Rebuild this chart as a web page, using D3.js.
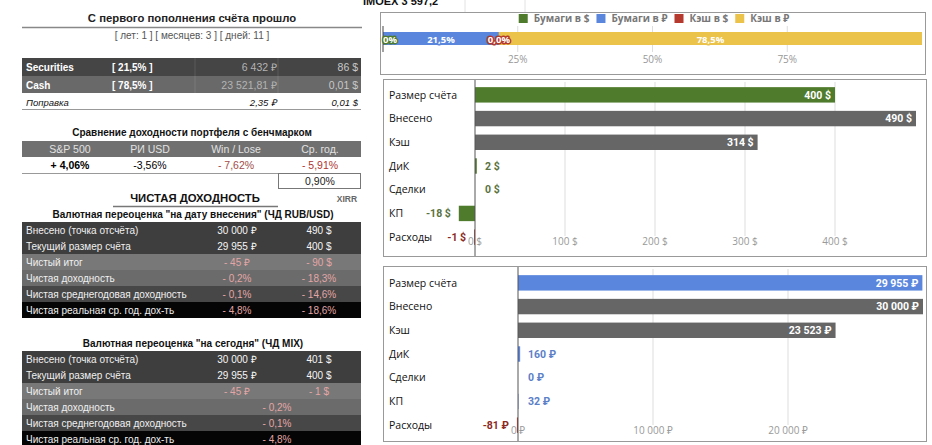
<!DOCTYPE html>
<html><head><meta charset="utf-8">
<script src="https://cdn.jsdelivr.net/npm/d3@7"></script>
<style>body{margin:0;background:#fff;overflow:hidden} svg{display:block}</style>
</head><body><svg id="c" width="932" height="445"></svg>
<script>
// ---------- data ----------
const elapsedTitle = "С первого пополнения счёта прошло";
const elapsedText = "[ лет: 1 ] [ месяцев: 3 ] [ дней: 11 ]";
const holdingsLabels = ["Securities", "Cash", "Поправка"];
const holdingsShares = ["[ 21,5% ]", "[ 78,5% ]", ""];
const holdingsRub = ["6 432 ₽", "23 521,81 ₽", "2,35 ₽"];
const holdingsUsd = ["86 $", "0,01 $", "0,01 $"];
const benchTitle = "Сравнение доходности портфеля с бенчмарком";
const benchHeaders = ["S&P 500", "РИ USD", "Win / Lose", "Ср. год."];
const benchValues = ["+ 4,06%", "-3,56%", "- 7,62%", "- 5,91%"];
const xirrValue = "0,90%";
const netTitle = "ЧИСТАЯ ДОХОДНОСТЬ";
const netSub1 = "Валютная переоценка \"на дату внесения\" (ЧД RUB/USD)";
const netSub2 = "Валютная переоценка \"на сегодня\" (ЧД MIX)";
const netLabels = ["Внесено (точка отсчёта)", "Текущий размер счёта", "Чистый итог", "Чистая доходность", "Чистая среднегодовая доходность", "Чистая реальная ср. год. дох-ть"];
const netRubUsdCol1 = ["30 000 ₽", "29 955 ₽", "- 45 ₽", "- 0,2%", "- 0,1%", "- 4,8%"];
const netRubUsdCol2 = ["490 $", "400 $", "- 90 $", "- 18,3%", "- 14,6%", "- 18,6%"];
const netMixCol1 = ["30 000 ₽", "29 955 ₽", "- 45 ₽"];
const netMixCol2 = ["401 $", "400 $", "- 1 $"];
const netMixMerged = ["- 0,2%", "- 0,1%", "- 4,8%"];
const imoexText = "IMOEX 3 597,2";
const allocCategories = ["Бумаги в $", "Бумаги в ₽", "Кэш в $", "Кэш в ₽"];
const allocValues = [0.0, 21.5, 0.0, 78.5];
const allocLabels = ["0%", "21,5%", "0,0%", "78,5%"];
const allocTicks = [25, 50, 75];
const flowCategories = ["Размер счёта", "Внесено", "Кэш", "ДиК", "Сделки", "КП", "Расходы"];
const flowUsd = [400, 490, 314, 2, 0, -18, -1];
const flowRub = [29955, 30000, 23523, 160, 0, 32, -81];
const usdTicks = [0, 100, 200, 300, 400];
const rubTicks = [0, 10000, 20000];

// ---------- styles ----------
const C = {green:"#4f7b2c", blue:"#5a86dd", gray:"#666666", red:"#b5392c", yellow:"#ebc24a"};
const LF = "'Liberation Sans', Arial, sans-serif";
const RF = "'Open Sans', 'Noto Sans', sans-serif";
const svg = d3.select("#c");

function txt(g, x, y, s, o = {}) {
  const t = g.append("text").attr("x", x).attr("y", y).text(s)
    .attr("font-family", o.ff || LF).attr("font-size", o.fs || 10)
    .attr("fill", o.fill || "#111").attr("text-anchor", o.anchor || "start");
  if (o.bold) t.attr("font-weight", "bold");
  if (o.italic) t.attr("font-style", "italic");
  return t;
}

// ---------- left panel ----------
const L = svg.append("g");
txt(L, 192, 22, elapsedTitle, {fs: 11.3, bold: true, anchor: "middle", fill: "#222"});
L.append("line").attr("x1", 22).attr("x2", 362).attr("y1", 27.5).attr("y2", 27.5).attr("stroke", "#888").attr("stroke-width", 1.5);
txt(L, 192, 39, elapsedText, {fs: 10, anchor: "middle", fill: "#555"});

// holdings table
const hY = [58, 76, 93], hH = [18, 17, 16], hFill = ["#454545", "#696969", "#ffffff"];
holdingsLabels.forEach((lab, i) => {
  L.append("rect").attr("x", 22).attr("y", hY[i]).attr("width", 339).attr("height", hH[i]).attr("fill", hFill[i]);
  const base = hY[i] + 12.5;
  if (i < 2) {
    txt(L, 26, base, lab, {bold: true, fill: "#fff", fs: 10});
    txt(L, 112, base, holdingsShares[i], {bold: true, fill: "#fff", fs: 10});
    txt(L, 277, base, holdingsRub[i], {fill: "#b4b4b4", anchor: "end", fs: 10.5});
    txt(L, 358, base, holdingsUsd[i], {fill: "#c8c8c8", anchor: "end", fs: 10.5});
    L.append("line").attr("x1", 195).attr("x2", 195).attr("y1", hY[i]).attr("y2", hY[i] + hH[i]).attr("stroke", "rgba(255,255,255,0.12)");
    L.append("line").attr("x1", 278).attr("x2", 278).attr("y1", hY[i]).attr("y2", hY[i] + hH[i]).attr("stroke", "rgba(255,255,255,0.12)");
  } else {
    txt(L, 26, base, lab, {italic: true, fs: 9.5});
    txt(L, 277, base, holdingsRub[i], {italic: true, anchor: "end", fs: 9.5});
    txt(L, 358, base, holdingsUsd[i], {italic: true, anchor: "end", fs: 9.5});
  }
});
L.append("line").attr("x1", 22).attr("x2", 361).attr("y1", 109.5).attr("y2", 109.5).attr("stroke", "#999");

// benchmark
txt(L, 192, 136, benchTitle, {fs: 10, bold: true, anchor: "middle", fill: "#111"});
L.append("rect").attr("x", 22).attr("y", 141).attr("width", 339).attr("height", 16).attr("fill", "#707070");
const bX = [70, 150, 236, 320];
const bCol = ["#000", "#000", "#a34c48", "#b0352f"];
benchHeaders.forEach((h, i) => {
  txt(L, bX[i], 153, h, {fs: 10.5, anchor: "middle", fill: "#e2e2e2"});
  txt(L, bX[i], 169, benchValues[i], {fs: 10.5, anchor: "middle", fill: bCol[i], bold: i === 0});
});
L.append("line").attr("x1", 22).attr("x2", 278).attr("y1", 173.5).attr("y2", 173.5).attr("stroke", "#999");
L.append("rect").attr("x", 278.5).attr("y", 173.5).attr("width", 82).attr("height", 15).attr("fill", "none").attr("stroke", "#777");
txt(L, 320, 185, xirrValue, {fs: 10.5, anchor: "middle", fill: "#222"});

txt(L, 195, 202, netTitle, {fs: 11.3, bold: true, anchor: "middle", fill: "#111"});
L.append("line").attr("x1", 113).attr("x2", 278).attr("y1", 206.5).attr("y2", 206.5).attr("stroke", "#777").attr("stroke-width", 1.5);
txt(L, 347, 202, "XIRR", {fs: 8.5, bold: true, anchor: "middle", fill: "#666"});

const rowFill = ["#3e3e3e", "#3e3e3e", "#787878", "#6b6b6b", "#474747", "#050505"];
const negCol = "#e3a6a6";
function netTable(y0, sub, col1, col2, merged) {
  txt(L, 193, y0 - 4, sub, {fs: 10, bold: true, anchor: "middle", fill: "#111"});
  netLabels.forEach((lab, i) => {
    const y = y0 + i * 16;
    L.append("rect").attr("x", 22).attr("y", y).attr("width", 339).attr("height", 16).attr("fill", rowFill[i]);
    txt(L, 26, y + 12, lab, {fs: 10, fill: "#f0f0f0"});
    const c = i < 2 ? "#f5f5f5" : negCol;
    if (i < col1.length) {
      txt(L, 237, y + 12, col1[i], {fs: 10, anchor: "middle", fill: c});
      txt(L, 319, y + 12, col2[i], {fs: 10, anchor: "middle", fill: c});
    } else {
      txt(L, 277, y + 12, merged[i - col1.length], {fs: 10, anchor: "middle", fill: c});
    }
  });
}
netTable(222, netSub1, netRubUsdCol1, netRubUsdCol2, []);
netTable(351, netSub2, netMixCol1, netMixCol2, netMixMerged);

// ---------- right panel ----------
const R = svg.append("g");
txt(R, 363, 5, imoexText, {fs: 11, bold: true, fill: "#111"});
[465, 525].forEach(x => R.append("line").attr("x1", x).attr("x2", x).attr("y1", 0).attr("y2", 12).attr("stroke", "#e2e2e2"));

// allocation chart
R.append("rect").attr("x", 380.5).attr("y", 12.5).attr("width", 545).attr("height", 62).attr("fill", "#fff").attr("stroke", "#999");
const ax = d3.scaleLinear().domain([0, 100]).range([383, 922]);
const allocColors = [C.green, C.blue, C.red, C.yellow];
// legend
const lg = R.append("g");
let lx = 0;
allocCategories.forEach((c, i) => {
  const it = lg.append("g").attr("transform", `translate(${lx},0)`);
  it.append("rect").attr("x", 0).attr("y", 14).attr("width", 9).attr("height", 9).attr("fill", allocColors[i]);
  const t = txt(it, 15, 22, c, {ff: RF, fs: 10, bold: true, fill: "#777"});
  lx += 15 + t.node().getComputedTextLength() + 7;
});
lg.attr("transform", `translate(${654 - (lx - 7) / 2},0)`);
// grid
R.selectAll(".ag").data(allocTicks).join("line")
  .attr("x1", d => ax(d)).attr("x2", d => ax(d)).attr("y1", 26).attr("y2", 52).attr("stroke", "#ddd");
R.selectAll(".at").data(allocTicks).join("text")
  .attr("x", d => ax(d)).attr("y", 63).attr("text-anchor", "middle").attr("font-family", RF)
  .attr("font-size", 10).attr("fill", "#999").text(d => d + "%");
// stacked bar
const starts = allocValues.map((v, i) => d3.sum(allocValues.slice(0, i)));
R.selectAll(".ab").data(allocValues).join("rect")
  .attr("x", (d, i) => ax(starts[i])).attr("y", 32)
  .attr("width", d => ax(d) - ax(0)).attr("height", 13).attr("fill", (d, i) => allocColors[i]);
R.append("line").attr("x1", 383).attr("x2", 383).attr("y1", 26).attr("y2", 52).attr("stroke", "#444");
allocValues.forEach((v, i) => {
  const mid = starts[i] + v / 2;
  const first = i === 0;
  R.append("text").attr("x", first ? ax(0) : ax(mid)).attr("y", 42.5)
    .attr("text-anchor", first ? "start" : "middle")
    .attr("font-family", RF).attr("font-size", 9.5).attr("font-weight", "bold")
    .attr("fill", "#fff").attr("stroke", allocColors[i]).attr("stroke-width", 3)
    .attr("paint-order", "stroke").attr("stroke-linejoin", "round")
    .text(allocLabels[i]);
});

// flows charts
function flowChart(box, values, ticks, domain, range, yRange, mainCol, smallCol, unit, axisY) {
  R.append("rect").attr("x", box[0] + 0.5).attr("y", box[1] + 0.5).attr("width", box[2]).attr("height", box[3])
    .attr("fill", "#fff").attr("stroke", "#999");
  const x = d3.scaleLinear().domain(domain).range(range);
  const y = d3.scaleBand().domain(flowCategories).range(yRange).paddingInner(0.35).paddingOuter(0.175);
  const fmt = d => d3.format(",")(d).replace(/,/g, " ").replace(/\u2212/g, "-") + " " + unit;
  const g = R.append("g");
  g.selectAll(".gl").data(ticks.filter(t => t !== 0)).join("line")
    .attr("x1", d => x(d)).attr("x2", d => x(d)).attr("y1", box[1] + 3).attr("y2", axisY - 9).attr("stroke", "#ddd");
  g.selectAll(".tl").data(ticks).join("text")
    .attr("x", d => x(d)).attr("y", axisY).attr("text-anchor", "middle").attr("font-family", RF)
    .attr("font-size", 10).attr("fill", "#999").text(fmt);
  const colorOf = (d, i) => d < 0 && i === flowCategories.length - 1 ? C.red : (i === 1 || i === 2 ? C.gray : mainCol);
  g.selectAll(".b").data(values).join("rect")
    .attr("x", d => x(Math.min(0, d))).attr("y", (d, i) => y(flowCategories[i]))
    .attr("width", d => Math.abs(x(d) - x(0))).attr("height", y.bandwidth())
    .attr("fill", colorOf);
  g.append("line").attr("x1", x(0)).attr("x2", x(0)).attr("y1", box[1] + 1).attr("y2", box[1] + box[3]).attr("stroke", "#555");
  g.selectAll(".cl").data(flowCategories).join("text")
    .attr("x", box[0] + 6).attr("y", d => y(d) + y.bandwidth() / 2).attr("dy", "0.35em")
    .attr("font-family", RF).attr("font-size", 10.5).attr("fill", "#111").text(d => d);
  values.forEach((d, i) => {
    const w = Math.abs(x(d) - x(0));
    const cy = y(flowCategories[i]) + y.bandwidth() / 2;
    const t = g.append("text").attr("y", cy).attr("dy", "0.35em").attr("font-family", "Roboto, sans-serif")
      .attr("font-size", 10.5).attr("font-weight", "bold").text(fmt(d));
    if (w > 45) {
      t.attr("x", x(d) - 4).attr("text-anchor", "end").attr("fill", "#fff");
    } else if (d >= 0) {
      t.attr("x", x(0) + 10).attr("text-anchor", "start").attr("fill", smallCol);
    } else {
      t.attr("x", x(d) - 8).attr("text-anchor", "end").attr("fill", i === flowCategories.length - 1 ? "#8c2a22" : smallCol);
    }
  });
}
flowChart([383, 79, 543, 177], flowUsd, usdTicks, [-100, 500], [385, 925], [83, 249], C.green, "#5a7340", "$", 245);
flowChart([383, 266, 543, 175], flowRub, rubTicks, [-10000, 30000], [383, 923], [271, 437], C.blue, "#5b80c8", "₽", 434);
</script></body></html>
